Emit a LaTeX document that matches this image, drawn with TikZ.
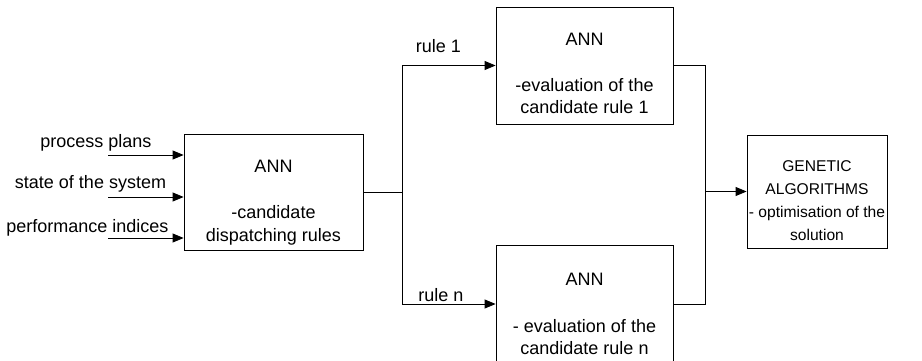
\documentclass[tikz,border=0pt]{standalone}
\usepackage{fontspec}
\setmainfont{Liberation Sans}
\usetikzlibrary{arrows.meta}
\begin{document}
\begin{tikzpicture}[x=1pt,y=-1pt,
  box/.style={draw, line width=0.8pt, inner sep=0},
  txt/.style={align=center, inner sep=0, anchor=north, font=\fontsize{18}{22.5}\selectfont},
  lbl/.style={inner sep=0, anchor=base, font=\fontsize{18}{22.5}\selectfont},
  conn/.style={line width=0.8pt},
  arr/.style={conn, -{Triangle[length=11pt,width=9pt]}}]
\useasboundingbox (0,0) rectangle (922,361);
% boxes
\node[box, minimum width=179pt, minimum height=116pt] (cand) at (273.5,192) {};
\node[box, minimum width=177pt, minimum height=117pt] (top) at (584.5,65.5) {};
\node[box, minimum width=177pt, minimum height=118pt] (bot) at (584.5,304) {};
\node[box, minimum width=140pt, minimum height=113pt] (ga) at (817,191.5) {};
% box texts
\node[txt] (candtxt) at (273.5,160) {ANN\\[23.5pt]-candidate\\dispatching rules};
\node[txt] (toptxt) at (584.5,32.7) {ANN\\[23.5pt]-evaluation of the\\candidate rule 1};
\node[txt] (bottxt) at (584.5,272.7) {ANN\\[24.5pt]- evaluation of the\\candidate rule n};
\node[txt, font=\fontsize{15.6}{23}\selectfont] (gatxt) at (817,160.7) {GENETIC\\ALGORITHMS\\- optimisation of the\\solution};
% inputs
\coordinate (in1) at (108,155);
\coordinate (in2) at (108,197);
\coordinate (in3) at (108,238);
\node[lbl] (l1) at (96,147) {process plans};
\node[lbl] (l2) at (90.5,188) {state of the system};
\node[lbl] (l3) at (87.5,232) {performance indices};
\draw[arr] (in1) -- (in1 -| cand.west);
\draw[arr] (in2) -- (in2 -| cand.west);
\draw[arr] (in3) -- (in3 -| cand.west);
% split
\coordinate (sp) at (402,192);
\draw[conn] (cand.east) -- (sp);
\draw[arr] (sp) |- (top.west);
\draw[arr] (sp) |- (bot.west);
\node[lbl] (r1) at (438.5,53) {rule 1};
\node[lbl] (rn) at (441,301) {rule n};
% merge
\coordinate (mg) at (705,191.5);
\draw[conn] (top.east) -| (mg);
\draw[conn] (bot.east) -| (mg);
\draw[arr] (mg) -- (ga.west);
\end{tikzpicture}
\end{document}
